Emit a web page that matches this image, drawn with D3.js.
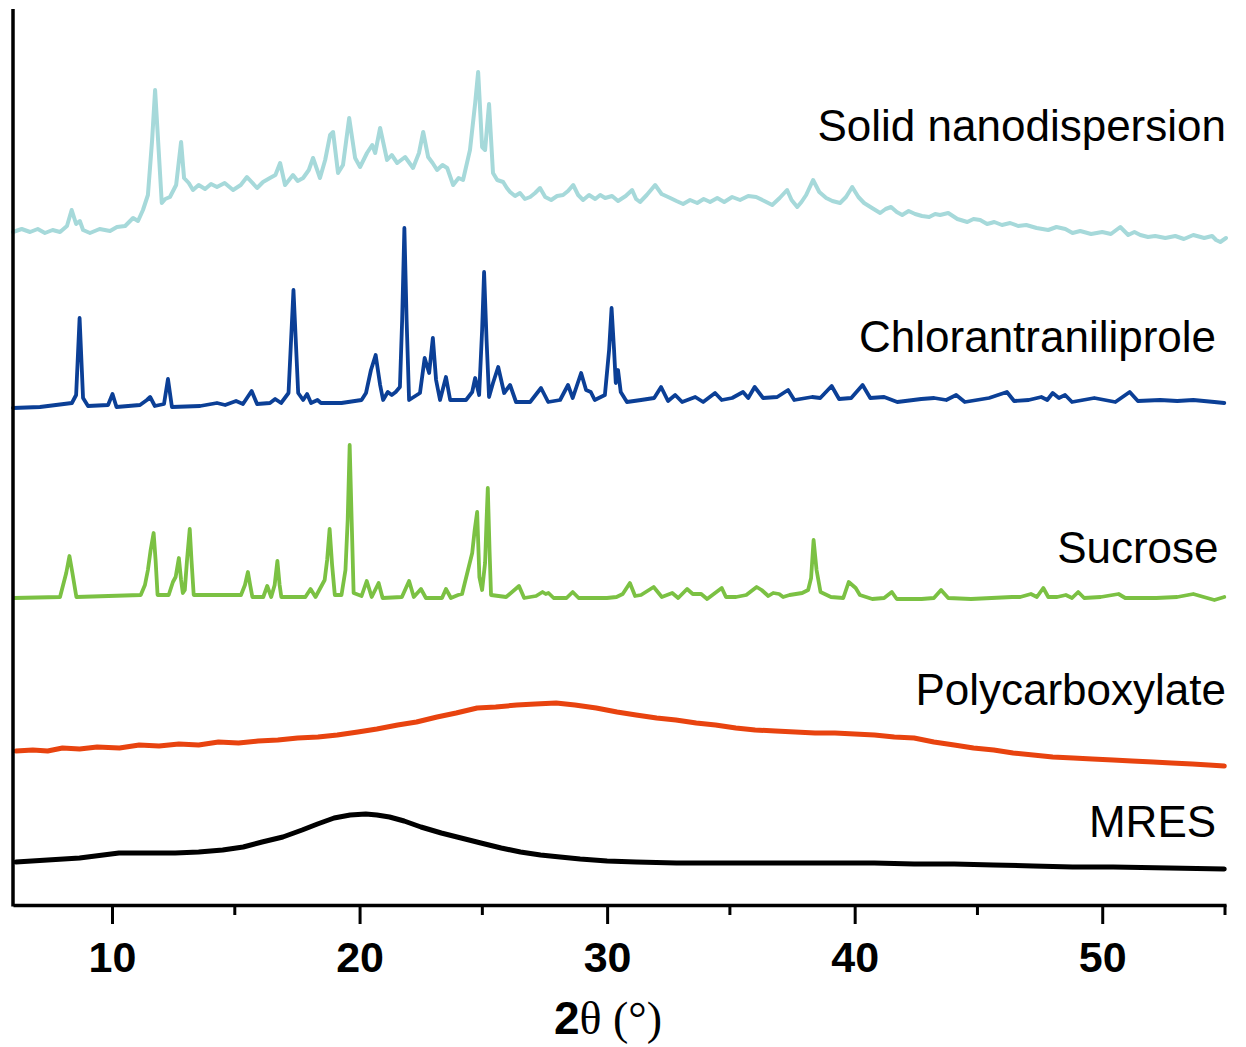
<!DOCTYPE html>
<html>
<head>
<meta charset="utf-8">
<script src="https://cdn.jsdelivr.net/npm/d3@7/dist/d3.min.js"></script>
<style>
  body { margin: 0; background: #fff; }
  svg { display: block; }
  .label { font-family: "Liberation Sans", Arial, sans-serif; font-size: 44px; fill: #000; }
</style>
</head>
<body>
<svg id="chart" width="1246" height="1047"></svg>
<script>
// XRD patterns, [2theta, intensity (a.u., stacked)]
const solidNano = [
  [6.0, 673], [6.35, 676], [6.69, 673], [7.0, 676], [7.29, 672], [7.6, 675], [7.9, 673], [8.18, 679], [8.37, 695],
  [8.55, 681], [8.7, 684], [8.83, 675], [9.11, 672], [9.5, 676], [9.92, 674], [10.2, 678], [10.53, 679],
  [10.85, 687], [11.05, 684], [11.25, 695], [11.45, 710], [11.62, 765], [11.74, 815], [11.86, 765], [12.01, 702],
  [12.15, 706], [12.34, 708], [12.59, 720], [12.79, 763], [12.91, 727], [13.1, 722], [13.27, 715], [13.5, 720],
  [13.76, 716], [14.0, 721], [14.24, 718], [14.55, 722], [14.89, 715], [15.2, 720], [15.45, 728], [15.86, 717],
  [16.1, 723], [16.38, 727], [16.6, 730], [16.79, 742], [16.99, 720], [17.31, 730], [17.5, 724], [17.72, 727],
  [17.95, 735], [18.12, 747], [18.4, 727], [18.61, 745], [18.81, 770], [18.93, 773], [19.13, 732], [19.33, 740],
  [19.58, 787], [19.82, 747], [20.02, 738], [20.3, 752], [20.51, 760], [20.63, 752], [20.83, 777], [21.11, 745],
  [21.3, 750], [21.52, 742], [21.84, 748], [22.16, 737], [22.4, 752], [22.57, 773], [22.77, 748], [22.95, 742],
  [23.13, 735], [23.35, 740], [23.54, 737], [23.78, 720], [24.0, 727], [24.18, 725], [24.46, 755], [24.67, 802],
  [24.79, 833], [24.95, 758], [25.07, 755], [25.23, 801], [25.39, 732], [25.56, 725], [25.8, 723], [25.95, 717],
  [26.08, 713], [26.28, 709], [26.48, 712], [26.68, 706], [26.89, 708], [27.09, 712], [27.29, 717], [27.5, 708],
  [27.74, 705], [27.98, 709], [28.22, 710], [28.42, 714], [28.63, 720], [28.83, 710], [29.03, 705], [29.27, 710],
  [29.52, 706], [29.72, 710], [29.92, 707], [30.2, 709], [30.44, 704], [30.75, 709], [31.01, 715], [31.17, 706],
  [31.33, 703], [31.6, 710], [31.94, 720], [32.2, 711], [32.55, 707], [32.8, 704], [33.07, 701], [33.35, 705],
  [33.64, 702], [33.9, 706], [34.16, 703], [34.45, 707], [34.73, 703], [35.05, 708], [35.37, 705], [35.7, 709],
  [36.02, 708], [36.35, 704], [36.67, 700], [36.97, 707], [37.27, 715], [37.45, 705], [37.68, 698], [37.85, 703],
  [38.04, 710], [38.32, 725], [38.57, 713], [38.85, 707], [39.1, 704], [39.41, 702], [39.65, 708], [39.9, 718],
  [40.15, 708], [40.38, 702], [40.7, 697], [41.03, 692], [41.25, 696], [41.47, 698], [41.7, 693], [41.92, 690],
  [42.18, 694], [42.44, 691], [42.72, 689], [43.01, 688], [43.25, 691], [43.45, 690], [43.78, 692], [44.15, 686],
  [44.55, 683], [44.8, 686], [45.07, 685], [45.35, 681], [45.64, 683], [45.95, 680], [46.28, 682], [46.6, 679],
  [46.93, 680], [47.35, 677], [47.82, 675], [48.15, 678], [48.51, 676], [48.8, 672], [49.11, 674], [49.55, 671],
  [50.0, 673], [50.35, 671], [50.73, 678], [51.05, 670], [51.3, 673], [51.54, 670], [51.85, 668], [52.14, 669],
  [52.55, 667], [52.95, 669], [53.3, 666], [53.68, 670], [54.12, 667], [54.44, 669], [54.6, 665], [54.77, 663],
  [55.0, 667]
];

const chlorantraniliprole = [
  [6.0, 497], [7.09, 498], [8.38, 502], [8.55, 510], [8.69, 587], [8.83, 507], [9.03, 499], [9.84, 500],
  [10.02, 511], [10.18, 498], [11.13, 500], [11.41, 505], [11.54, 508], [11.73, 499], [12.1, 501], [12.26, 526],
  [12.42, 498], [13.56, 499], [14.24, 502], [14.57, 500], [15.01, 504], [15.29, 501], [15.64, 514], [15.86, 501],
  [16.38, 502], [16.59, 506], [16.83, 502], [17.13, 512], [17.33, 615], [17.52, 512], [17.72, 505], [17.88, 511],
  [18.04, 502], [18.3, 505], [18.44, 502], [19.27, 502], [20.08, 505], [20.26, 512], [20.46, 535], [20.65, 550],
  [20.83, 520], [20.95, 505], [21.14, 513], [21.3, 510], [21.46, 513], [21.63, 518], [21.72, 585], [21.81, 677],
  [21.9, 585], [22.0, 505], [22.44, 512], [22.63, 547], [22.81, 532], [22.96, 567], [23.09, 525], [23.25, 505],
  [23.49, 528], [23.66, 505], [24.3, 505], [24.55, 513], [24.67, 527], [24.83, 510], [24.95, 575], [25.03, 633],
  [25.13, 565], [25.23, 508], [25.39, 522], [25.6, 538], [25.84, 512], [26.08, 520], [26.32, 503], [26.89, 503],
  [27.33, 517], [27.62, 503], [28.1, 505], [28.42, 520], [28.61, 507], [28.95, 532], [29.15, 515], [29.34, 513],
  [29.5, 505], [29.91, 510], [30.08, 555], [30.18, 597], [30.28, 555], [30.35, 522], [30.44, 535], [30.55, 513],
  [30.8, 503], [31.37, 505], [31.9, 507], [32.18, 518], [32.46, 504], [32.75, 510], [33.03, 503], [33.56, 508],
  [33.88, 503], [34.36, 512], [34.63, 505], [35.05, 507], [35.49, 513], [35.7, 507], [35.96, 518], [36.3, 507],
  [36.87, 508], [37.31, 515], [37.56, 505], [38.28, 508], [38.61, 507], [39.07, 519], [39.37, 506], [39.86, 507],
  [40.32, 520], [40.63, 507], [41.19, 508], [41.72, 503], [42.69, 506], [43.21, 507], [43.7, 505], [44.1, 510],
  [44.45, 503], [45.43, 507], [46.15, 513], [46.44, 504], [47.03, 505], [47.54, 508], [47.78, 505], [48.0, 512],
  [48.25, 507], [48.5, 510], [48.78, 503], [49.68, 507], [50.53, 503], [51.11, 513], [51.44, 504], [52.34, 505],
  [53.03, 504], [53.68, 505], [54.53, 503], [54.93, 502]
];

const sucrose = [
  [6.04, 307], [7.9, 308], [8.15, 332], [8.28, 349], [8.4, 332], [8.56, 308], [11.16, 310], [11.33, 320],
  [11.45, 335], [11.56, 355], [11.68, 372], [11.76, 345], [11.84, 310], [12.29, 310], [12.46, 323], [12.57, 328],
  [12.7, 347], [12.79, 325], [12.86, 312], [12.94, 315], [13.03, 345], [13.14, 376], [13.21, 345], [13.3, 310],
  [15.21, 310], [15.37, 320], [15.49, 333], [15.58, 320], [15.67, 308], [16.11, 308], [16.27, 319], [16.43, 308],
  [16.57, 320], [16.68, 344], [16.77, 320], [16.84, 308], [17.81, 308], [18.02, 316], [18.22, 308], [18.59, 325],
  [18.69, 345], [18.79, 376], [18.89, 340], [19.0, 310], [19.27, 310], [19.43, 335], [19.52, 385], [19.6, 460],
  [19.68, 385], [19.76, 312], [20.08, 309], [20.29, 324], [20.49, 308], [20.77, 322], [20.93, 307], [21.71, 308],
  [22.0, 324], [22.19, 308], [22.48, 316], [22.68, 307], [23.33, 307], [23.49, 316], [23.69, 307], [23.98, 310],
  [24.14, 311], [24.38, 335], [24.55, 352], [24.65, 375], [24.75, 393], [24.84, 328], [24.95, 315], [25.07, 342],
  [25.13, 385], [25.18, 417], [25.25, 355], [25.31, 310], [25.92, 308], [26.44, 319], [26.65, 307], [27.13, 309],
  [27.39, 313], [27.52, 311], [27.63, 312], [27.84, 307], [28.36, 307], [28.61, 313], [28.85, 307], [29.99, 307],
  [30.38, 308], [30.63, 311], [30.92, 322], [31.13, 309], [31.37, 310], [31.88, 318], [32.21, 308], [32.63, 312],
  [32.87, 307], [33.23, 316], [33.46, 311], [33.8, 311], [34.04, 306], [34.63, 317], [34.8, 308], [35.21, 308],
  [35.62, 310], [36.04, 318], [36.24, 315], [36.51, 309], [36.71, 312], [36.95, 311], [37.11, 308], [37.37, 310],
  [37.88, 312], [38.12, 315], [38.24, 327], [38.34, 365], [38.46, 335], [38.62, 313], [39.04, 308], [39.54, 307],
  [39.76, 323], [39.9, 320], [40.04, 317], [40.21, 310], [40.71, 306], [41.19, 307], [41.5, 313], [41.7, 306],
  [42.7, 306], [43.2, 307], [43.49, 315], [43.78, 307], [44.7, 306], [46.36, 308], [46.69, 308], [47.12, 311],
  [47.36, 308], [47.62, 317], [47.82, 308], [48.18, 308], [48.53, 310], [48.78, 307], [49.03, 313], [49.27, 307],
  [49.94, 308], [50.66, 311], [50.93, 307], [52.18, 307], [53.03, 308], [53.68, 311], [54.1, 308], [54.53, 305],
  [54.93, 308]
];

const polycarboxylate = [
  [6.12, 154], [6.8, 155], [7.4, 154], [8.0, 157], [8.69, 156], [9.4, 158], [10.3, 157], [11.1, 160],
  [11.9, 159], [12.7, 161], [13.5, 160], [14.3, 163], [15.11, 162], [15.9, 164], [16.7, 165], [17.5, 167],
  [18.32, 168], [19.1, 170], [19.93, 173], [20.7, 176], [21.54, 180], [22.3, 183], [23.13, 188], [23.9, 192],
  [24.75, 197], [25.5, 198], [26.35, 200], [27.1, 201], [27.94, 202], [28.7, 200], [29.56, 197], [30.4, 193],
  [31.17, 190], [32.0, 187], [32.78, 185], [33.6, 182], [34.38, 180], [35.2, 177], [35.98, 175], [36.8, 174],
  [37.6, 173], [38.4, 172], [39.2, 172], [40.0, 171], [40.8, 170], [41.6, 168], [42.4, 167], [43.2, 163],
  [44.02, 160], [44.8, 157], [45.62, 155], [46.4, 152], [47.21, 150], [48.0, 148], [48.83, 147], [49.6, 146],
  [50.44, 145], [51.2, 144], [52.06, 143], [52.8, 142], [53.64, 141], [54.3, 140], [54.93, 139]
];

const mres = [
  [6.12, 43], [7.4, 45], [8.69, 47], [10.28, 52], [11.4, 52], [12.55, 52], [13.5, 53], [14.47, 55],
  [15.3, 58], [16.06, 63], [16.9, 68], [17.68, 75], [18.3, 81], [18.97, 87], [19.62, 90], [20.25, 91],
  [20.7, 90], [21.21, 88], [21.8, 84], [22.48, 78], [23.3, 72], [24.1, 67], [24.9, 62], [25.72, 57],
  [26.5, 53], [27.31, 50], [28.1, 48], [28.91, 46], [30.0, 44], [31.17, 43], [32.8, 42], [34.36, 42],
  [36.0, 42], [37.6, 42], [39.2, 42], [40.79, 42], [42.4, 41], [44.02, 41], [45.6, 40], [47.21, 39],
  [48.8, 38], [50.44, 38], [52.7, 37], [54.93, 36]
];

const seriesNames = ['MRES', 'Polycarboxylate', 'Sucrose', 'Chlorantraniliprole', 'Solid nanodispersion'];
const seriesData = [mres, polycarboxylate, sucrose, chlorantraniliprole, solidNano];
const seriesColors = ['#000000', '#e8430f', '#7bc143', '#0b3f96', '#a6d9da'];
const seriesWidth = [5, 5, 3.8, 3.8, 4];
// label anchor: [2theta at right edge, intensity at baseline]
const labelPos = [[54.6, 68], [55.0, 200], [54.7, 342], [54.6, 553], [55.0, 764]];
const majorTicks = [10, 20, 30, 40, 50];
const minorTicks = [15, 25, 35, 45, 55];

const svg = d3.select('#chart');
const x = d3.scaleLinear().domain([6, 55]).range([13, 1226]);
const y = d3.scaleLinear().domain([0, 896]).range([905, 9]);

const line = d3.line()
  .x((d) => x(d[0]))
  .y((d) => y(d[1]));

seriesData.forEach((data, i) => {
  svg.append('path')
    .datum(data)
    .attr('fill', 'none')
    .attr('stroke', seriesColors[i])
    .attr('stroke-width', seriesWidth[i])
    .attr('stroke-linejoin', 'round')
    .attr('stroke-linecap', 'round')
    .attr('d', line);
});

svg.selectAll('text.label')
  .data(seriesNames)
  .enter()
  .append('text')
  .attr('class', 'label')
  .attr('text-anchor', 'end')
  .attr('x', (d, i) => x(labelPos[i][0]))
  .attr('y', (d, i) => y(labelPos[i][1]))
  .text((d) => d);

// x axis, major + minor ticks
const xAxis = svg.append('g')
  .attr('transform', 'translate(0,905)')
  .call(d3.axisBottom(x).tickValues(majorTicks).tickSize(19).tickSizeOuter(0));
xAxis.select('.domain').attr('stroke-width', 3.5);
xAxis.selectAll('.tick line').attr('stroke-width', 3);
xAxis.selectAll('.tick text')
  .attr('y', 67)
  .attr('dy', 0)
  .style('font-family', '"Liberation Sans", Arial, sans-serif')
  .style('font-size', '43px')
  .style('font-weight', 'bold')
  .attr('fill', '#000');

svg.append('g')
  .attr('transform', 'translate(0,905)')
  .selectAll('line')
  .data(minorTicks)
  .enter()
  .append('line')
  .attr('x1', (d) => x(d) - 1)
  .attr('x2', (d) => x(d) - 1)
  .attr('y1', 0)
  .attr('y2', 10)
  .attr('stroke', '#000')
  .attr('stroke-width', 3);

// y axis (no ticks)
svg.append('line')
  .attr('x1', x(6)).attr('x2', x(6))
  .attr('y1', y(896)).attr('y2', y(0) + 1.5)
  .attr('stroke', '#000')
  .attr('stroke-width', 3.5);

const title = svg.append('text')
  .attr('x', 608)
  .attr('y', 1034)
  .attr('text-anchor', 'middle')
  .style('font-size', '46px');
title.append('tspan')
  .style('font-family', '"Liberation Sans", Arial, sans-serif')
  .style('font-weight', 'bold')
  .text('2');
title.append('tspan')
  .style('font-family', '"Liberation Serif", "Times New Roman", serif')
  .text('θ (°)');
</script>
</body>
</html>
